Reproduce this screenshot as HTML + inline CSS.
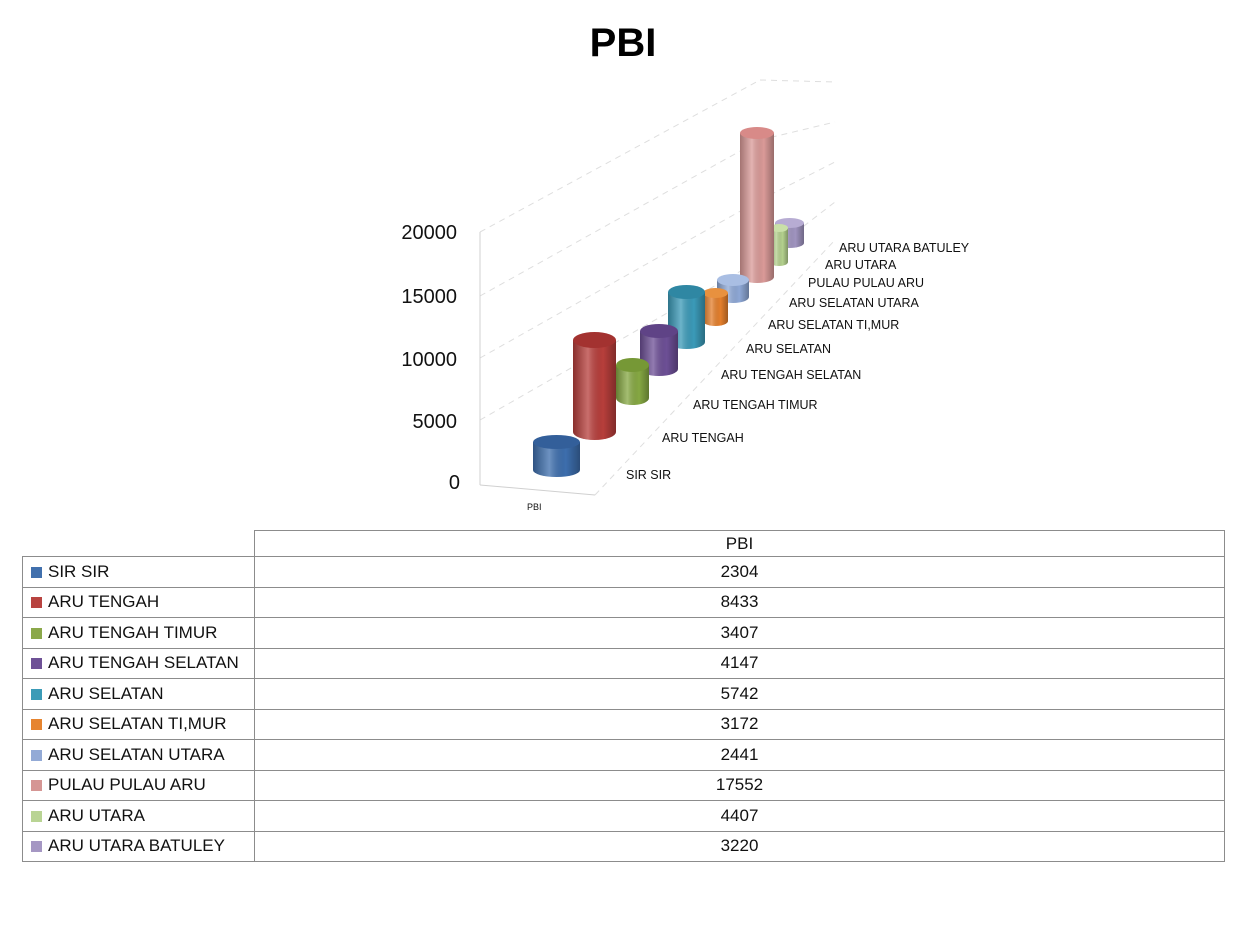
<!DOCTYPE html>
<html><head><meta charset="utf-8"><style>
body{margin:0;background:#fff;width:1247px;height:945px;overflow:hidden;font-family:"Liberation Sans",sans-serif}
svg{position:absolute;left:0;top:0}
table{position:absolute;left:22px;top:530px;width:1202px;table-layout:fixed;border-collapse:collapse;font-family:"Liberation Sans",sans-serif;font-size:17px;color:#111}
td{border:1px solid #8c8c8c;height:30.5px;padding:0;box-sizing:border-box}
td.l{padding-left:8px;white-space:nowrap;overflow:hidden}
td.v{text-align:center}
.s{display:inline-block;width:11px;height:11px;margin-right:6px;vertical-align:-1px}
</style></head><body>
<svg width="1247" height="530" viewBox="0 0 1247 530">
<defs>
<linearGradient id="sh" x1="0" x2="1" y1="0" y2="0">
<stop offset="0" stop-color="#000" stop-opacity="0.25"/>
<stop offset="0.35" stop-color="#fff" stop-opacity="0.25"/>
<stop offset="0.7" stop-color="#000" stop-opacity="0"/>
<stop offset="1" stop-color="#000" stop-opacity="0.3"/>
</linearGradient>
</defs>
<text x="623" y="56" text-anchor="middle" font-size="40" font-weight="bold" fill="#000">PBI</text>
<g stroke="#dedede" stroke-width="1" stroke-dasharray="6,5" fill="none">
<line x1="480" y1="232" x2="760" y2="80"/><line x1="760" y1="80" x2="835" y2="82"/>
<line x1="480" y1="296" x2="760" y2="140"/><line x1="760" y1="140" x2="835" y2="122"/>
<line x1="480" y1="358" x2="760" y2="200"/><line x1="760" y1="200" x2="835" y2="162"/>
<line x1="480" y1="420" x2="760" y2="260"/><line x1="760" y1="260" x2="835" y2="202"/>
<line x1="595" y1="495" x2="835" y2="240"/>
</g>
<g stroke="#d0d0d0" stroke-width="1" fill="none">
<line x1="480" y1="232" x2="480" y2="485"/>
<line x1="480" y1="485" x2="595" y2="495"/>
</g>
<g font-size="20" fill="#111" text-anchor="end">
<text x="457" y="239">20000</text><text x="457" y="303">15000</text><text x="457" y="366">10000</text><text x="457" y="428">5000</text><text x="460" y="489">0</text>
</g>
<text x="527" y="510" font-size="9" fill="#111">PBI</text>
<g font-size="12.5" fill="#111">
<text x="626" y="479">SIR SIR</text>
<text x="662" y="442">ARU TENGAH</text>
<text x="693" y="409">ARU TENGAH TIMUR</text>
<text x="721" y="379">ARU TENGAH SELATAN</text>
<text x="746" y="353">ARU SELATAN</text>
<text x="768" y="329">ARU SELATAN TI,MUR</text>
<text x="789" y="307">ARU SELATAN UTARA</text>
<text x="808" y="287">PULAU PULAU ARU</text>
<text x="825" y="269">ARU UTARA</text>
<text x="839" y="252">ARU UTARA BATULEY</text>
</g>
<g>
<path d="M775,223 L775,243 A14.5,5 0 0 0 804,243 L804,223 Z" fill="#a094c0"/><path d="M775,223 L775,243 A14.5,5 0 0 0 804,243 L804,223 Z" fill="url(#sh)"/><ellipse cx="789.5" cy="223" rx="14.5" ry="5" fill="#b7acd3"/>
<path d="M770,228 L770,262 A9,4 0 0 0 788,262 L788,228 Z" fill="#b4d18e"/><path d="M770,228 L770,262 A9,4 0 0 0 788,262 L788,228 Z" fill="url(#sh)"/><ellipse cx="779" cy="228" rx="9" ry="4" fill="#c9e0a8"/>
<path d="M740,133 L740,277 A17,6 0 0 0 774,277 L774,133 Z" fill="#da9a98"/><path d="M740,133 L740,277 A17,6 0 0 0 774,277 L774,133 Z" fill="url(#sh)"/><ellipse cx="757" cy="133" rx="17" ry="6" fill="#d88a88"/>
<path d="M717,280 L717,297 A16,6 0 0 0 749,297 L749,280 Z" fill="#8ea8d6"/><path d="M717,280 L717,297 A16,6 0 0 0 749,297 L749,280 Z" fill="url(#sh)"/><ellipse cx="733" cy="280" rx="16" ry="6" fill="#a9bee3"/>
<path d="M703,293 L703,321 A12.5,5 0 0 0 728,321 L728,293 Z" fill="#e47f2c"/><path d="M703,293 L703,321 A12.5,5 0 0 0 728,321 L728,293 Z" fill="url(#sh)"/><ellipse cx="715.5" cy="293" rx="12.5" ry="5" fill="#e8913f"/>
<path d="M668,292 L668,342 A18.5,7 0 0 0 705,342 L705,292 Z" fill="#3b9ab8"/><path d="M668,292 L668,342 A18.5,7 0 0 0 705,342 L705,292 Z" fill="url(#sh)"/><ellipse cx="686.5" cy="292" rx="18.5" ry="7" fill="#2f87a3"/>
<path d="M640,331 L640,369 A19,7 0 0 0 678,369 L678,331 Z" fill="#6d4f96"/><path d="M640,331 L640,369 A19,7 0 0 0 678,369 L678,331 Z" fill="url(#sh)"/><ellipse cx="659" cy="331" rx="19" ry="7" fill="#5f4386"/>
<path d="M616,365 L616,398 A16.5,7 0 0 0 649,398 L649,365 Z" fill="#86a843"/><path d="M616,365 L616,398 A16.5,7 0 0 0 649,398 L649,365 Z" fill="url(#sh)"/><ellipse cx="632.5" cy="365" rx="16.5" ry="7" fill="#769836"/>
<path d="M573,340 L573,432 A21.5,8 0 0 0 616,432 L616,340 Z" fill="#b73e3b"/><path d="M573,340 L573,432 A21.5,8 0 0 0 616,432 L616,340 Z" fill="url(#sh)"/><ellipse cx="594.5" cy="340" rx="21.5" ry="8" fill="#a33230"/>
<path d="M533,442 L533,470 A23.5,7 0 0 0 580,470 L580,442 Z" fill="#3d6ead"/><path d="M533,442 L533,470 A23.5,7 0 0 0 580,470 L580,442 Z" fill="url(#sh)"/><ellipse cx="556.5" cy="442" rx="23.5" ry="7" fill="#335f9a"/>
</g>
</svg>
<table>
<colgroup><col style="width:232px"><col style="width:970px"></colgroup>
<tr><td style="border:none;border-right:1px solid #8c8c8c;height:26px"></td><td class="v" style="height:26px">PBI</td></tr>
<tr><td class="l"><span class="s" style="background:#4170ad"></span>SIR SIR</td><td class="v">2304</td></tr>
<tr><td class="l"><span class="s" style="background:#b84340"></span>ARU TENGAH</td><td class="v">8433</td></tr>
<tr><td class="l"><span class="s" style="background:#8ba84a"></span>ARU TENGAH TIMUR</td><td class="v">3407</td></tr>
<tr><td class="l"><span class="s" style="background:#6e5196"></span>ARU TENGAH SELATAN</td><td class="v">4147</td></tr>
<tr><td class="l"><span class="s" style="background:#3b9bb7"></span>ARU SELATAN</td><td class="v">5742</td></tr>
<tr><td class="l"><span class="s" style="background:#e6842f"></span>ARU SELATAN TI,MUR</td><td class="v">3172</td></tr>
<tr><td class="l"><span class="s" style="background:#93aad6"></span>ARU SELATAN UTARA</td><td class="v">2441</td></tr>
<tr><td class="l"><span class="s" style="background:#d59694"></span>PULAU PULAU ARU</td><td class="v">17552</td></tr>
<tr><td class="l"><span class="s" style="background:#b9d494"></span>ARU UTARA</td><td class="v">4407</td></tr>
<tr><td class="l"><span class="s" style="background:#a597c3"></span>ARU UTARA BATULEY</td><td class="v">3220</td></tr>
</table>
</body></html>
